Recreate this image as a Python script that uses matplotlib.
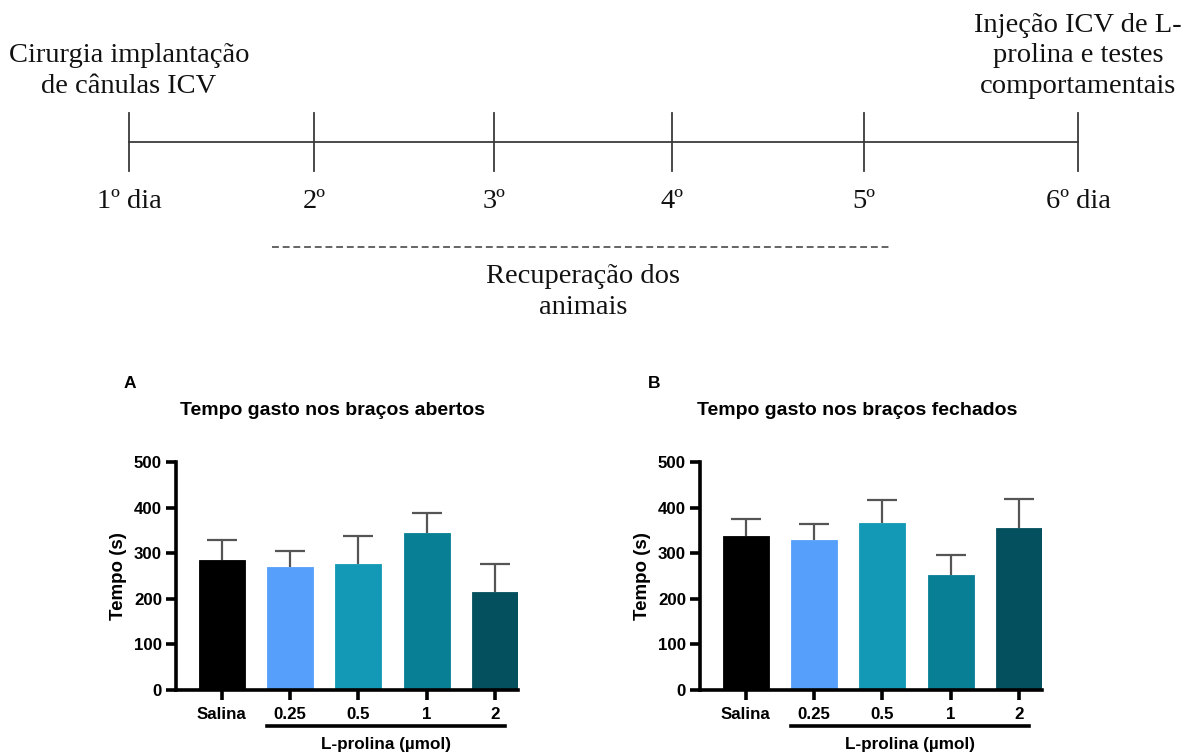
import numpy as np
import matplotlib
matplotlib.use("Agg")
import matplotlib.pyplot as plt
import matplotlib.transforms as mtransforms

# figure data
groups = ["Salina", "0.25", "0.5", "1", "2"]
colors = ["#000000", "#56A0FB", "#1399B5", "#097F96", "#05505F"]

open_mean = [285, 270, 277, 345, 216]
open_err = [43, 34, 61, 43, 60]
closed_mean = [338, 328, 367, 253, 355]
closed_err = [37, 35, 49, 42, 63]

day_labels = ["1º dia", "2º", "3º", "4º", "5º", "6º dia"]
day_pos = [129, 314, 494, 672, 864, 1078]  # pixel positions on the timeline

W, H = 1192, 756
fig = plt.figure(figsize=(W / 100, H / 100), dpi=100)

# timeline (drawn in pixel units)
tl = fig.add_axes([0, 0, 1, 1])
tl.set_xlim(0, W)
tl.set_ylim(H, 0)
tl.axis("off")
serif = dict(family="Liberation Serif", fontsize=20.5, color="#111111")
line_c = "#3a3a3a"
tl.plot([day_pos[0], day_pos[-1]], [142, 142], color=line_c, lw=1.3)
for x, lab in zip(day_pos, day_labels):
    tl.plot([x, x], [113, 171], color=line_c, lw=1.3)
    tl.text(x, 201, lab, ha="center", va="center", **serif)
tl.plot([272, 890], [247, 247], color=line_c, lw=1.1, ls=(0, (4.5, 2.5)))
tl.text(583, 292, "Recuperação dos\nanimais", ha="center", va="center",
        multialignment="center", linespacing=1.3, **serif)
tl.text(129, 71, "Cirurgia implantação\nde cânulas ICV", ha="center", va="center",
        multialignment="center", linespacing=1.3, **serif)
tl.text(1078, 56, "Injeção ICV de L-\nprolina e testes\ncomportamentais", ha="center",
        va="center", multialignment="center", linespacing=1.3, **serif)


def panel(left_px, letter, title, means, errs):
    ax = fig.add_axes([left_px / W, (H - 690) / H, 342 / W, 228 / H])
    x = np.arange(len(groups))
    ax.bar(x, means, width=0.67, color=colors, edgecolor=colors, linewidth=0.6, zorder=2)
    eb = ax.errorbar(x, means, yerr=[np.zeros(len(errs)), errs], fmt="none",
                     ecolor="#555555", elinewidth=1.6, capsize=11, capthick=1.6, zorder=1)
    eb[1][0].set_visible(False)  # no cap on the lower side
    ax.set_xlim(-0.667, 4.335)
    ax.set_ylim(0, 500)
    ax.set_yticks([0, 100, 200, 300, 400, 500])
    ax.set_xticks(x)
    ax.set_xticklabels(groups)
    for s in ["top", "right"]:
        ax.spines[s].set_visible(False)
    for s in ["left", "bottom"]:
        ax.spines[s].set_linewidth(2.6)
    ax.tick_params(axis="both", width=2.6, length=7, labelsize=12.2, pad=3)
    ax.tick_params(axis="x", pad=5)
    for t in ax.get_xticklabels() + ax.get_yticklabels():
        t.set_fontweight("bold")
        t.set_family("Liberation Sans")
    ax.set_ylabel("Tempo (s)", fontsize=13.5, fontweight="bold", family="Liberation Sans",
                  labelpad=5)
    # underline for L-prolina doses
    tr = mtransforms.blended_transform_factory(ax.transData, ax.transAxes)
    ax.plot([0.66, 4.14], [-0.158, -0.158], color="black", lw=2.6, transform=tr,
            clip_on=False)
    ax.text(2.4, -0.238, "L-prolina (µmol)", transform=tr, ha="center", va="center",
            fontsize=12.3, fontweight="bold", family="Liberation Sans")
    ax.text(-0.135, 1.346, letter, transform=ax.transAxes, ha="center",
            va="center", fontsize=12.5, fontweight="bold", family="Liberation Sans")
    ax.text(0.459, 1.228, title, transform=ax.transAxes, ha="center", va="center",
            fontsize=14, fontweight="bold", family="Liberation Sans")
    return ax


panel(176, "A", "Tempo gasto nos braços abertos", open_mean, open_err)
panel(700, "B", "Tempo gasto nos braços fechados", closed_mean, closed_err)

fig.savefig("out.png", dpi=100)
